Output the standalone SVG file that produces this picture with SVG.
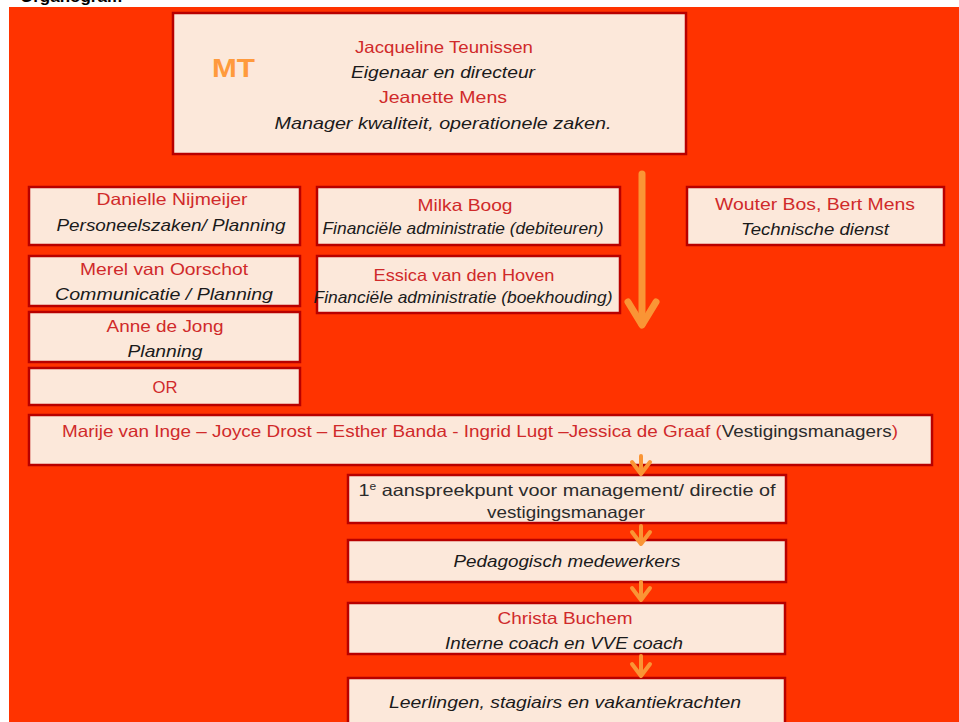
<svg xmlns="http://www.w3.org/2000/svg" width="959" height="722" viewBox="0 0 959 722">
<style>
.box{fill:#FCE8DA;stroke:#B80000;stroke-width:2.5}
.t{font-family:"Liberation Sans",Arial,sans-serif;font-size:16.5px;text-anchor:middle}
.n{fill:#D02A2A}
.i{fill:#1a1a1a;font-style:italic}
.d{fill:#2b2b2b}
.arr{fill:none;stroke:#FA9535;stroke-linecap:round;stroke-linejoin:round}
</style>
<rect x="0" y="0" width="959" height="722" fill="#ffffff"/>
<text x="20" y="2" font-family="Liberation Sans,Arial,sans-serif" font-weight="bold" font-size="17" fill="#000">Organogram</text>
<rect x="9" y="7" width="950" height="715" fill="#FF3300"/>

<g id="mt">
  <rect class="box" x="173" y="13" width="513" height="141"/>
  <text x="212" y="77" font-family="Liberation Sans,Arial,sans-serif" font-weight="bold" font-size="25" fill="#FF9A3C" textLength="43" lengthAdjust="spacingAndGlyphs">MT</text>
  <text class="t n" x="444" y="53" textLength="178" lengthAdjust="spacingAndGlyphs">Jacqueline Teunissen</text>
  <text class="t i" x="443" y="78" textLength="184" lengthAdjust="spacingAndGlyphs">Eigenaar en directeur</text>
  <text class="t n" x="443" y="103" textLength="128" lengthAdjust="spacingAndGlyphs">Jeanette Mens</text>
  <text class="t i" x="443" y="129" textLength="337" lengthAdjust="spacingAndGlyphs">Manager kwaliteit, operationele zaken.</text>
</g>

<g id="danielle">
  <rect class="box" x="29" y="187" width="271" height="58"/>
  <text class="t n" x="172" y="205" textLength="151" lengthAdjust="spacingAndGlyphs">Danielle Nijmeijer</text>
  <text class="t i" x="171" y="231" textLength="229" lengthAdjust="spacingAndGlyphs">Personeelszaken/ Planning</text>
</g>
<g id="merel">
  <rect class="box" x="29" y="256" width="271" height="50"/>
  <text class="t n" x="164" y="275" textLength="168" lengthAdjust="spacingAndGlyphs">Merel van Oorschot</text>
  <text class="t i" x="164" y="300" textLength="218" lengthAdjust="spacingAndGlyphs">Communicatie / Planning</text>
</g>
<g id="anne">
  <rect class="box" x="29" y="312" width="271" height="50"/>
  <text class="t n" x="165" y="332" textLength="117" lengthAdjust="spacingAndGlyphs">Anne de Jong</text>
  <text class="t i" x="165" y="357" textLength="75" lengthAdjust="spacingAndGlyphs">Planning</text>
</g>
<g id="or">
  <rect class="box" x="29" y="368" width="271" height="37"/>
  <text class="t n" x="165" y="393" textLength="25" lengthAdjust="spacingAndGlyphs">OR</text>
</g>

<g id="milka">
  <rect class="box" x="317" y="187" width="303" height="58"/>
  <text class="t n" x="465" y="211" textLength="95" lengthAdjust="spacingAndGlyphs">Milka Boog</text>
  <text class="t i" x="463" y="234" font-size="15" textLength="281" lengthAdjust="spacingAndGlyphs">Financiële administratie (debiteuren)</text>
</g>
<g id="essica">
  <rect class="box" x="317" y="256" width="303" height="57"/>
  <text class="t n" x="464" y="281" textLength="181" lengthAdjust="spacingAndGlyphs">Essica van den Hoven</text>
  <text class="t i" x="463" y="303" font-size="15" textLength="299" lengthAdjust="spacingAndGlyphs">Financiële administratie (boekhouding)</text>
</g>

<g id="wouter">
  <rect class="box" x="687" y="187" width="257" height="58"/>
  <text class="t n" x="815" y="210" textLength="200" lengthAdjust="spacingAndGlyphs">Wouter Bos, Bert Mens</text>
  <text class="t i" x="815" y="235" textLength="148" lengthAdjust="spacingAndGlyphs">Technische dienst</text>
</g>

<g id="vestigingsmanagers">
  <rect class="box" x="29" y="415" width="903" height="50"/>
  <text class="t" x="62" y="437" textLength="836" lengthAdjust="spacingAndGlyphs" style="text-anchor:start"><tspan class="n">Marije van Inge – Joyce Drost – Esther Banda -  Ingrid Lugt –Jessica de Graaf (</tspan><tspan class="d">Vestigingsmanagers</tspan><tspan class="n">)</tspan></text>
</g>

<g id="aanspreekpunt">
  <rect class="box" x="348" y="475" width="438" height="48"/>
  <text class="t d" x="567" y="496" textLength="417" lengthAdjust="spacingAndGlyphs">1<tspan font-size="10" dy="-6">e</tspan><tspan dy="6"> aanspreekpunt voor management/ directie of</tspan></text>
  <text class="t d" x="566" y="518" textLength="158" lengthAdjust="spacingAndGlyphs">vestigingsmanager</text>
</g>

<g id="pedagogisch">
  <rect class="box" x="348" y="540" width="438" height="42"/>
  <text class="t i" x="567" y="567" textLength="227" lengthAdjust="spacingAndGlyphs">Pedagogisch medewerkers</text>
</g>

<g id="christa">
  <rect class="box" x="348" y="603" width="437" height="51"/>
  <text class="t n" x="565" y="624" textLength="135" lengthAdjust="spacingAndGlyphs">Christa Buchem</text>
  <text class="t i" x="564" y="649" textLength="238" lengthAdjust="spacingAndGlyphs">Interne coach en VVE coach</text>
</g>

<g id="leerlingen">
  <rect class="box" x="348" y="678" width="437" height="50"/>
  <text class="t i" x="565" y="708" textLength="352" lengthAdjust="spacingAndGlyphs">Leerlingen, stagiairs en vakantiekrachten</text>
</g>

<g id="connectors">
  <path class="arr" d="M642,174 V324" stroke-width="7"/>
  <path class="arr" d="M628,302 L642,325 L656,302" stroke-width="7"/>
  <path class="arr" d="M641,456 V473 M632,462 L641,474 L650,462" stroke-width="4"/>
  <path class="arr" d="M641,526 V543 M632,532 L641,544 L650,532" stroke-width="4"/>
  <path class="arr" d="M641,582 V600 M632,588 L641,600 L650,588" stroke-width="4"/>
  <path class="arr" d="M641,656 V675 M632,664 L641,676 L650,664" stroke-width="4"/>
</g>
</svg>
